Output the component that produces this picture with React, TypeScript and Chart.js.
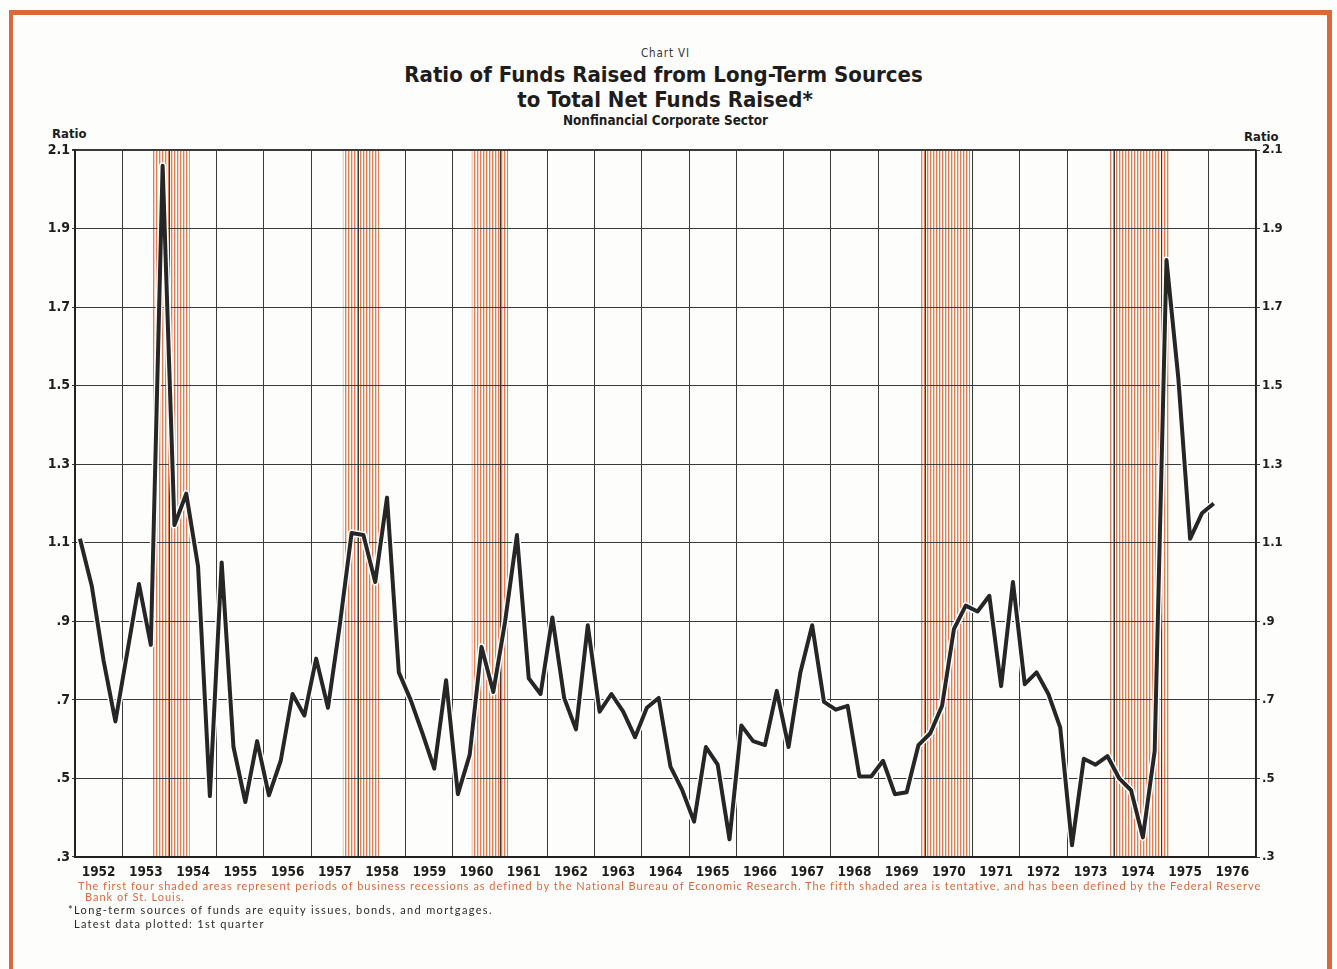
import React, { useEffect, useRef } from "react";
import { Chart, registerables } from "chart.js";

Chart.register(...registerables);

// ---------------- data ----------------
const yearLabels = [
  "1952", "1953", "1954", "1955", "1956", "1957", "1958", "1959", "1960",
  "1961", "1962", "1963", "1964", "1965", "1966", "1967", "1968", "1969",
  "1970", "1971", "1972", "1973", "1974", "1975", "1976",
];
const firstYear = 1952;
const lastYearEdge = 1977;

// quarterly ratio, 1952 Q1 .. 1976 Q1
const ratioValues = [
  1.11, 0.99, 0.8, 0.645, // 1952
  0.82, 0.995, 0.84, 2.06, // 1953
  1.145, 1.225, 1.04, 0.455, // 1954
  1.05, 0.58, 0.44, 0.595, // 1955
  0.457, 0.545, 0.715, 0.66, // 1956
  0.805, 0.68, 0.89, 1.125, // 1957
  1.12, 1.0, 1.215, 0.77, // 1958
  0.7, 0.615, 0.525, 0.75, // 1959
  0.46, 0.56, 0.835, 0.72, // 1960
  0.9, 1.12, 0.755, 0.715, // 1961
  0.91, 0.705, 0.625, 0.89, // 1962
  0.67, 0.715, 0.67, 0.605, // 1963
  0.68, 0.705, 0.53, 0.47, // 1964
  0.39, 0.58, 0.535, 0.345, // 1965
  0.635, 0.595, 0.585, 0.723, // 1966
  0.58, 0.77, 0.89, 0.695, // 1967
  0.675, 0.685, 0.505, 0.505, // 1968
  0.545, 0.46, 0.465, 0.585, // 1969
  0.615, 0.685, 0.88, 0.94, // 1970
  0.925, 0.965, 0.735, 1.0, // 1971
  0.74, 0.77, 0.715, 0.63, // 1972
  0.33, 0.55, 0.535, 0.557, // 1973
  0.5, 0.47, 0.35, 0.57, // 1974
  1.82, 1.52, 1.11, 1.175, // 1975
  1.2, // 1976 Q1
];
const quarterPlotOffset = 0.105; // position of a quarter's point inside its quarter (years)

// shaded recession periods (decimal years)
const shadeStarts = [1953.65, 1957.67, 1960.4, 1969.91, 1973.91];
const shadeEnds = [1954.43, 1958.44, 1961.17, 1970.95, 1975.16];

const yTickValues = [0.3, 0.5, 0.7, 0.9, 1.1, 1.3, 1.5, 1.7, 1.9, 2.1];
const yTickLabels = [".3", ".5", ".7", ".9", "1.1", "1.3", "1.5", "1.7", "1.9", "2.1"];

// ---------------- styles ----------------
const ORANGE = "#D9683C";
const GRID = "#3a3a3a";
const LINE = "#262626";
const TICK_FONT = "'DejaVu Sans Condensed', 'DejaVu Sans', sans-serif";
const NOTE_FONT = "Lato, sans-serif";

function makeStripePattern(ctx: CanvasRenderingContext2D) {
  const c = document.createElement("canvas");
  c.width = 3;
  c.height = 4;
  const p = c.getContext("2d")!;
  p.fillStyle = "rgba(228,118,74,0.95)";
  p.fillRect(0, 0, 1, 4);
  p.fillStyle = "rgba(232,140,100,0.4)";
  p.fillRect(1, 0, 1, 4);
  return ctx.createPattern(c, "repeat");
}

const shadePlugin = {
  id: "recessionShade",
  beforeDraw(chart: any) {
    const { ctx, chartArea, scales } = chart;
    const pat = makeStripePattern(ctx);
    ctx.save();
    ctx.fillStyle = pat || "rgba(230,130,90,0.5)";
    for (let i = 0; i < shadeStarts.length; i++) {
      const x0 = scales.x.getPixelForValue(shadeStarts[i]);
      const x1 = scales.x.getPixelForValue(shadeEnds[i]);
      ctx.fillRect(x0, chartArea.top, x1 - x0, chartArea.bottom - chartArea.top);
    }
    ctx.restore();
  },
};

export default function App() {
  const canvasRef = useRef<HTMLCanvasElement | null>(null);

  useEffect(() => {
    if (!canvasRef.current) return;
    const points = ratioValues.map((v, k) => ({
      x: firstYear + Math.floor(k / 4) + (k % 4) / 4 + quarterPlotOffset,
      y: v,
    }));
    const yearTicks: number[] = [];
    for (let y = firstYear; y <= lastYearEdge; y++) yearTicks.push(y);

    const chart = new Chart(canvasRef.current, {
      type: "line",
      data: {
        datasets: [
          {
            label: "Ratio",
            data: points,
            borderColor: LINE,
            borderWidth: 4,
            pointRadius: 0,
            tension: 0,
            borderJoinStyle: "round",
            order: 0,
          },
          {
            label: "halo",
            data: points,
            borderColor: "#ffffff",
            borderWidth: 7,
            pointRadius: 0,
            tension: 0,
            borderJoinStyle: "round",
            order: 1,
          },
        ],
      },
      options: {
        animation: false,
        responsive: true,
        maintainAspectRatio: false,
        layout: { padding: { top: 12, right: 0, bottom: 0, left: 0 } },
        plugins: {
          legend: { display: false },
          tooltip: { enabled: false },
          title: { display: false },
        },
        scales: {
          x: {
            type: "linear",
            min: firstYear,
            max: lastYearEdge,
            afterBuildTicks: (s: any) => {
              s.ticks = yearTicks.map((v) => ({ value: v }));
            },
            afterFit: (s: any) => {
              s.height = 28;
            },
            grid: {
              color: GRID,
              lineWidth: 1,
              drawTicks: false,
            },
            border: { display: true, color: "#222", width: 2 },
            ticks: {
              autoSkip: false,
              maxRotation: 0,
              minRotation: 0,
              padding: 7,
              labelOffset: 23.6,
              color: "#1e1e1e",
              font: { family: TICK_FONT, size: 13.5, weight: "bold" },
              callback: (_v: any, i: number) => (i < yearLabels.length ? yearLabels[i] : ""),
            },
          },
          y: {
            type: "linear",
            position: "left",
            min: 0.3,
            max: 2.1,
            afterBuildTicks: (s: any) => {
              s.ticks = yTickValues.map((v) => ({ value: v }));
            },
            afterFit: (s: any) => {
              s.width = 75;
            },
            grid: {
              color: GRID,
              lineWidth: (c: any) => (c.tick && Math.abs(c.tick.value - 2.1) < 1e-6 ? 2 : 1.1),
              drawTicks: true,
              tickLength: 3,
            },
            border: { display: true, color: "#222", width: 2 },
            ticks: {
              padding: 2,
              color: "#1e1e1e",
              font: { family: TICK_FONT, size: 14, weight: "bold" },
              callback: (_v: any, i: number) => yTickLabels[i],
            },
          },
          y2: {
            type: "linear",
            position: "right",
            min: 0.3,
            max: 2.1,
            afterBuildTicks: (s: any) => {
              s.ticks = yTickValues.map((v) => ({ value: v }));
            },
            afterFit: (s: any) => {
              s.width = 81;
            },
            grid: {
              color: GRID,
              drawOnChartArea: false,
              drawTicks: true,
              tickLength: 4,
            },
            border: { display: true, color: "#222", width: 1.5 },
            ticks: {
              padding: 2,
              color: "#1e1e1e",
              font: { family: TICK_FONT, size: 13, weight: "bold" },
              callback: (_v: any, i: number) => yTickLabels[i],
            },
          },
        },
      },
      plugins: [shadePlugin],
    } as any);
    return () => chart.destroy();
  }, []);

  const abs = (style: React.CSSProperties): React.CSSProperties => ({
    position: "absolute",
    whiteSpace: "nowrap",
    ...style,
  });

  return (
    <div
      style={{
        position: "fixed",
        left: 0,
        top: 0,
        width: 1337,
        height: 969,
        background: "#fdfdfc",
        overflow: "hidden",
        fontFamily: TICK_FONT,
      }}
    >
      {/* orange frame */}
      <div
        style={abs({
          left: 9,
          top: 10,
          width: 1314,
          height: 980,
          borderTop: `5px solid ${ORANGE}`,
          borderLeft: `4px solid ${ORANGE}`,
          borderRight: `5px solid ${ORANGE}`,
        })}
      />
      {/* titles */}
      <div style={abs({ left: 0, width: 1331, top: 46, textAlign: "center", fontSize: 11.5, lineHeight: "14px", letterSpacing: "0.9px", color: "#333" })}>
        Chart VI
      </div>
      <div style={abs({ left: 0, width: 1327, top: 62, textAlign: "center", fontSize: 22, lineHeight: "26px", fontWeight: "bold", color: "#1d1d1d" })}>
        Ratio of Funds Raised from Long-Term Sources
      </div>
      <div style={abs({ left: 0, width: 1330, top: 87, textAlign: "center", fontSize: 22, lineHeight: "26px", fontWeight: "bold", color: "#1d1d1d" })}>
        to Total Net Funds Raised*
      </div>
      <div style={abs({ left: 0, width: 1331, top: 114, textAlign: "center", fontSize: 13.4, lineHeight: "14px", fontWeight: "bold", color: "#1d1d1d" })}>
        Nonfinancial Corporate Sector
      </div>
      <div style={abs({ left: 52, top: 127, fontSize: 13, lineHeight: "14px", fontWeight: "bold", color: "#1d1d1d" })}>
        Ratio
      </div>
      <div style={abs({ left: 1244, top: 130, fontSize: 13, lineHeight: "14px", fontWeight: "bold", color: "#1d1d1d" })}>
        Ratio
      </div>

      {/* chart */}
      <div style={abs({ left: 0, top: 138, width: 1337, height: 747 })}>
        <canvas ref={canvasRef} />
      </div>

      {/* footnotes */}
      <div style={abs({ left: 78, top: 879, fontSize: 11, lineHeight: "14px", letterSpacing: "0.98px", color: ORANGE, fontFamily: NOTE_FONT })}>
        The first four shaded areas represent periods of business recessions as defined by the National Bureau of Economic Research. The fifth shaded area is tentative, and has been defined by the Federal Reserve
      </div>
      <div style={abs({ left: 85, top: 890, fontSize: 11, lineHeight: "14px", letterSpacing: "0.98px", color: ORANGE, fontFamily: NOTE_FONT })}>
        Bank of St. Louis.
      </div>
      <div style={abs({ left: 68, top: 903, fontSize: 11, lineHeight: "14px", letterSpacing: "1.35px", color: "#2a2a2a", fontFamily: NOTE_FONT })}>
        *Long-term sources of funds are equity issues, bonds, and mortgages.
      </div>
      <div style={abs({ left: 74, top: 917, fontSize: 11, lineHeight: "14px", letterSpacing: "1.28px", color: "#2a2a2a", fontFamily: NOTE_FONT })}>
        Latest data plotted: 1st quarter
      </div>
    </div>
  );
}
